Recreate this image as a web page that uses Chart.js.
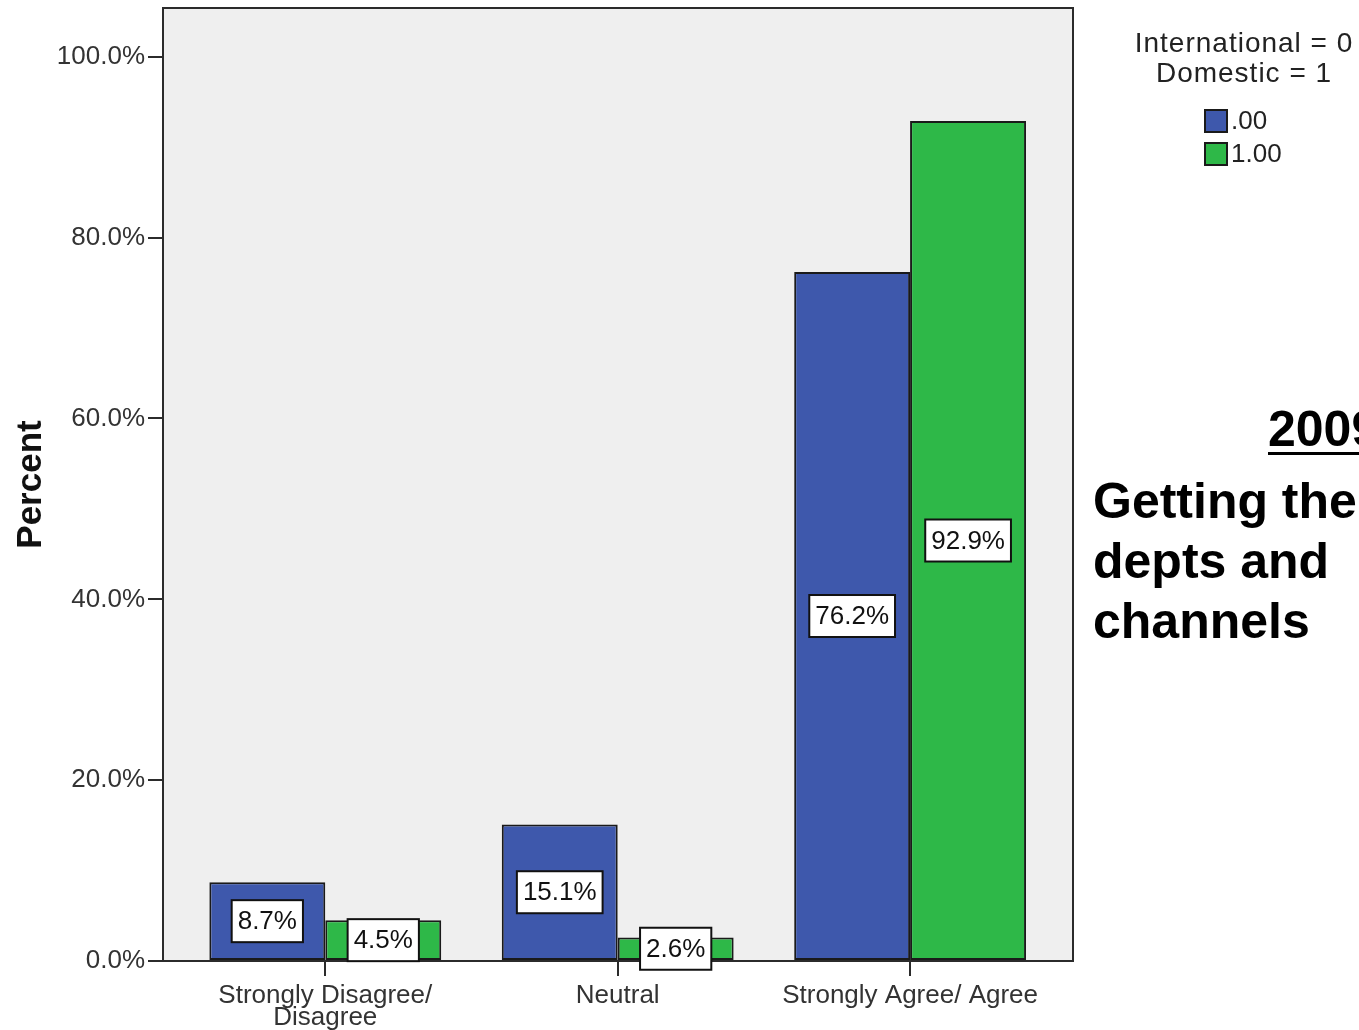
<!DOCTYPE html>
<html>
<head>
<meta charset="utf-8">
<title>Getting the depts and channels</title>
<script src="https://cdn.jsdelivr.net/npm/chart.js@4.4.1/dist/chart.umd.min.js"></script>
<style>
  html, body { margin: 0; padding: 0; background: #fff; overflow: hidden; }
  .wrap { position: relative; width: 1359px; height: 1030px; overflow: hidden; }
  .canvasBlock { position: absolute; left: 0; top: 0; }
  .slideText {
    position: absolute;
    font-family: "Liberation Sans", Arial, sans-serif;
    font-weight: bold;
    font-size: 50px;
    line-height: 60px;
    color: #000;
    white-space: nowrap;
  }
  .year { left: 1268px; top: 399px; text-decoration: underline; text-decoration-thickness: 3px; text-underline-offset: 6px; }
  .topic { left: 1093px; top: 471px; }
</style>
</head>
<body>
<div class="wrap">
  <canvas class="canvasBlock" id="chart" width="1359" height="1030"></canvas>
  <div class="slideText year">2009</div>
  <div class="slideText topic">Getting the<br>depts and<br>channels</div>
</div>
<script>
let categories = [["Strongly Disagree/", "Disagree"], "Neutral", "Strongly Agree/ Agree"];
let seriesNames = [".00", "1.00"];
let internationalPct = [8.7, 15.1, 76.2];
let domesticPct = [4.5, 2.6, 92.9];
let yTicks = [0, 20, 40, 60, 80, 100];
let legendTitle = ["International = 0", "Domestic = 1"];

let colorBlue = "#3e58ac";
let colorGreen = "#2eb848";
let colorEdge = "#1a1a1a";
let colorText = "#333333";
let colorPlot = "#efefef";
let fontFamily = "'Liberation Sans', Arial, sans-serif";

function toPoints(values) {
  return values.map((v, i) => ({ x: i, y: v }));
}

// grey plot background and the frame round it
let plotFrame = {
  id: "plotFrame",
  beforeDraw(chart) {
    let a = chart.chartArea;
    let ctx = chart.ctx;
    ctx.save();
    ctx.fillStyle = colorPlot;
    ctx.fillRect(a.left, a.top, a.right - a.left, a.bottom - a.top);
    ctx.restore();
  },
  beforeDatasetsDraw(chart) {
    let a = chart.chartArea;
    let ctx = chart.ctx;
    ctx.save();
    ctx.strokeStyle = "#2b2b2b";
    ctx.lineWidth = 2;
    ctx.strokeRect(a.left, a.top, a.right - a.left, a.bottom - a.top);
    ctx.restore();
  },
};

// white value boxes in the middle of each bar
let barLabels = {
  id: "barLabels",
  afterDraw(chart) {
    let ctx = chart.ctx;
    ctx.save();
    ctx.font = "26px " + fontFamily;
    ctx.textAlign = "center";
    ctx.textBaseline = "middle";
    chart.data.datasets.forEach((ds, di) => {
      let meta = chart.getDatasetMeta(di);
      meta.data.forEach((bar, i) => {
        let text = ds.data[i].y.toFixed(1) + "%";
        let cx = bar.x;
        let cy = (bar.y + bar.base) / 2;
        let w = ctx.measureText(text).width + 12;
        let h = 42;
        ctx.fillStyle = "#ffffff";
        ctx.fillRect(cx - w / 2, cy - h / 2, w, h);
        ctx.strokeStyle = "#111111";
        ctx.lineWidth = 2;
        ctx.strokeRect(cx - w / 2, cy - h / 2, w, h);
        ctx.fillStyle = "#111111";
        ctx.fillText(text, cx, cy + 1);
      });
    });
    ctx.restore();
  },
};

// legend with its two-line title, top right
let sideLegend = {
  id: "sideLegend",
  afterDraw(chart) {
    let ctx = chart.ctx;
    ctx.save();
    ctx.fillStyle = "#222222";
    ctx.font = "28px " + fontFamily;
    ctx.textAlign = "center";
    ctx.textBaseline = "middle";
    ctx.letterSpacing = "1px";
    legendTitle.forEach((line, i) => {
      ctx.fillText(line, 1244, 44 + i * 30);
    });
    ctx.letterSpacing = "0px";
    ctx.font = "26px " + fontFamily;
    ctx.textAlign = "left";
    chart.data.datasets.forEach((ds, i) => {
      let y = 110 + i * 33;
      ctx.fillStyle = ds.backgroundColor;
      ctx.fillRect(1205, y, 22, 22);
      ctx.strokeStyle = colorEdge;
      ctx.lineWidth = 2;
      ctx.strokeRect(1205, y, 22, 22);
      ctx.fillStyle = "#222222";
      ctx.fillText(ds.label, 1231, y + 12);
    });
    ctx.restore();
  },
};

function create_graph(canvas) {
  new Chart(canvas, {
    type: "bar",
    data: {
      datasets: [
        {
          label: seriesNames[0],
          data: toPoints(internationalPct),
          backgroundColor: colorBlue,
          borderColor: colorEdge,
          borderWidth: 2,
          borderSkipped: false,
          barPercentage: 1,
          categoryPercentage: 0.793,
        },
        {
          label: seriesNames[1],
          data: toPoints(domesticPct),
          backgroundColor: colorGreen,
          borderColor: colorEdge,
          borderWidth: 2,
          borderSkipped: false,
          barPercentage: 1,
          categoryPercentage: 0.793,
        },
      ],
    },
    options: {
      responsive: false,
      animation: false,
      layout: {
        padding: { top: 8, right: 286, left: 0, bottom: 0 },
      },
      plugins: {
        legend: { display: false },
        tooltip: { enabled: false },
      },
      scales: {
        x: {
          type: "linear",
          min: -0.555,
          max: 2.557,
          offset: false,
          afterBuildTicks: (axis) => {
            axis.ticks = categories.map((c, i) => ({ value: i }));
          },
          afterFit: (axis) => {
            axis.height = 69;
            axis.paddingLeft = 0;
            axis.paddingRight = 0;
          },
          ticks: {
            callback: (v) => categories[v],
            color: colorText,
            font: { family: fontFamily, size: 26, lineHeight: 0.85 },
            padding: 9,
            autoSkip: false,
            maxRotation: 0,
          },
          grid: {
            offset: false,
            drawOnChartArea: false,
            drawTicks: true,
            tickLength: 15,
            color: "#2b2b2b",
            lineWidth: 2,
          },
          border: { display: false },
        },
        y: {
          min: 0,
          max: 105.4,
          afterBuildTicks: (axis) => {
            axis.ticks = yTicks.map((v) => ({ value: v }));
          },
          afterFit: (axis) => {
            axis.width = 163;
            axis.paddingTop = 0;
            axis.paddingBottom = 0;
          },
          ticks: {
            callback: (v) => v.toFixed(1) + "%",
            color: colorText,
            font: { family: fontFamily, size: 26 },
            padding: 3,
          },
          grid: {
            drawOnChartArea: false,
            drawTicks: true,
            tickLength: 15,
            color: "#2b2b2b",
            lineWidth: 2,
          },
          border: { display: false },
          title: {
            display: true,
            text: "Percent",
            color: "#111111",
            font: { family: fontFamily, size: 35, weight: "bold" },
            padding: { top: 10, bottom: 0 },
          },
        },
      },
    },
    plugins: [plotFrame, barLabels, sideLegend],
  });
}

create_graph(document.getElementById("chart"));
</script>
</body>
</html>
